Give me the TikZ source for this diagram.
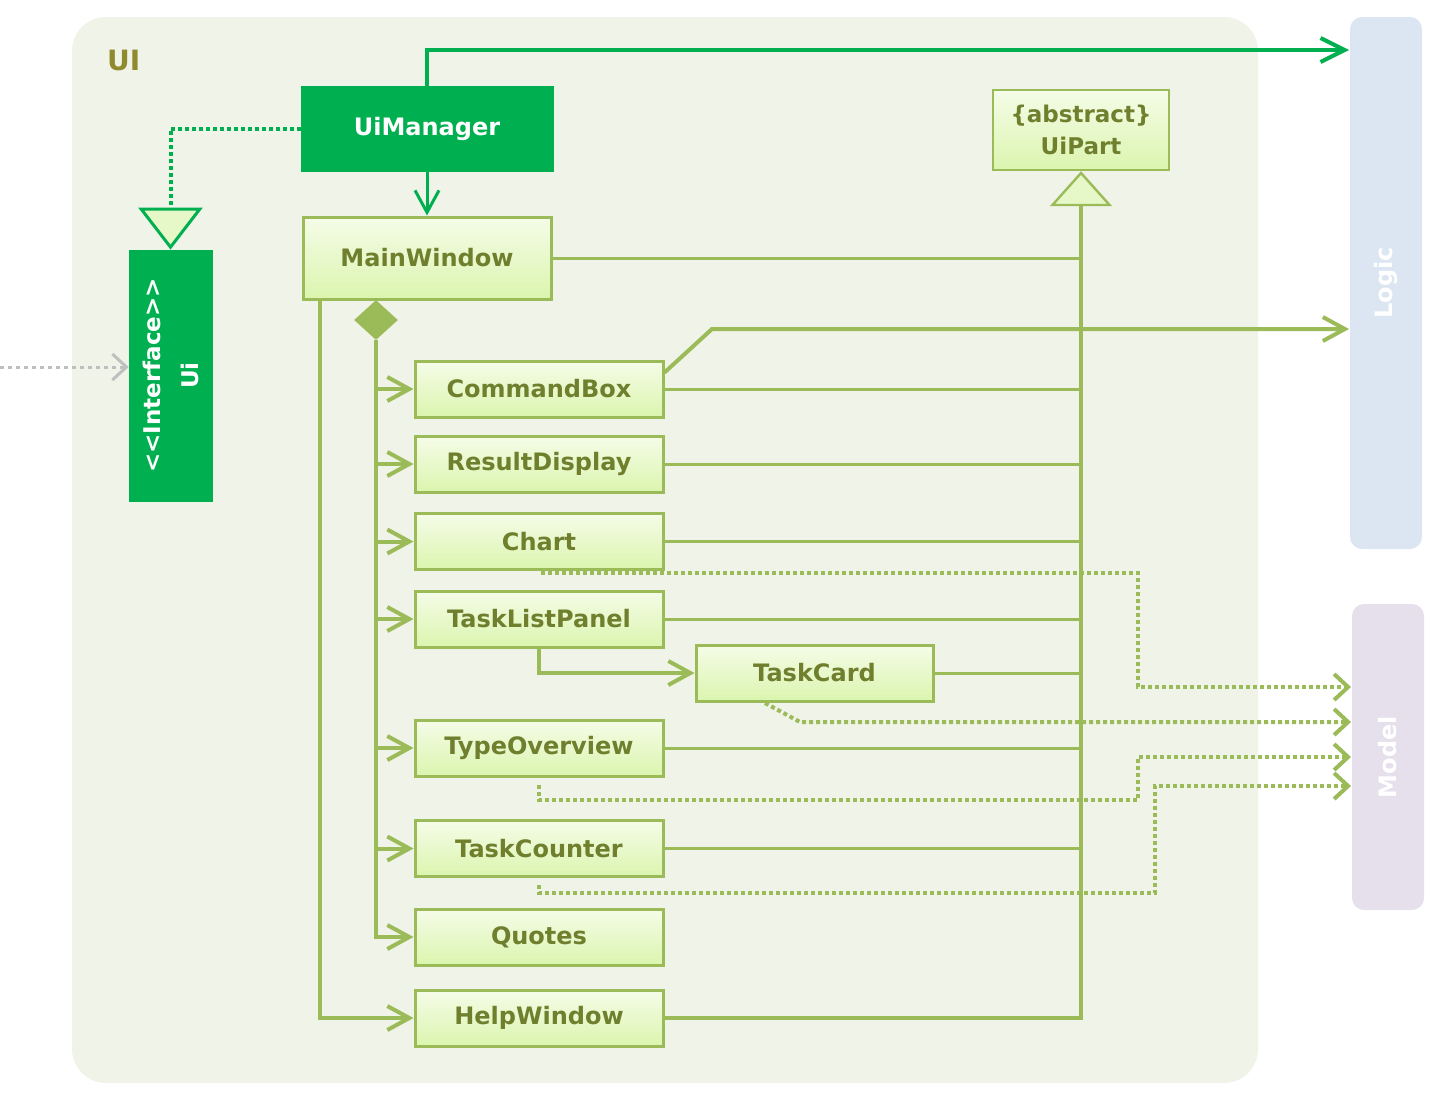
\documentclass[tikz,border=0pt]{standalone}
\usepackage{fontspec}
\setmainfont{DejaVu Sans}
\usetikzlibrary{arrows.meta,shapes.geometric,positioning}
\definecolor{uigreen}{HTML}{00B050}
\definecolor{olive}{HTML}{9BBB59}
\definecolor{olivetext}{HTML}{6F7F2E}
\definecolor{uilabel}{HTML}{8F8A2E}
\definecolor{boxtop}{HTML}{F5FCE8}
\definecolor{boxbot}{HTML}{DBF5AE}
\definecolor{headfill}{HTML}{E6F8C8}
\definecolor{pkgfill}{HTML}{F0F3E8}
\definecolor{logicfill}{HTML}{DCE6F2}
\definecolor{modelfill}{HTML}{E5E0EC}
\begin{document}
\begin{tikzpicture}[x=0.5pt,y=-0.5pt,
  cls/.style={draw=olive,line width=1.5pt,top color=boxtop,bottom color=boxbot,
    text=olivetext,font=\bfseries\fontsize{12}{14}\selectfont,inner sep=0pt,
    minimum width=124pt,minimum height=28pt},
  mgr/.style={fill=uigreen,draw=uigreen,text=white,inner sep=0pt,
    font=\bfseries\fontsize{12}{14}\selectfont},
  layer/.style={rounded corners=6pt,inner sep=0pt,minimum width=36pt,text=white,
    font=\bfseries\fontsize{12}{14}\selectfont},
  assoc/.style={draw=olive,line width=2pt,-{Straight Barb[length=11pt,width=12pt]}},
  gen/.style={draw=olive,line width=1.5pt},
  dep/.style={draw=olive,line width=2pt,dash pattern=on 2pt off 1.5pt,
    -{Straight Barb[length=7pt,width=13pt]}}]
\useasboundingbox (0,0) rectangle (1449,1110);
% package
\fill[pkgfill,rounded corners=17pt] (72,17) rectangle (1258,1083);
\node[anchor=west,text=uilabel,font=\bfseries\fontsize{14}{16}\selectfont] (uilabel) at (100,60) {UI};
% other layers
\node[layer,fill=logicfill,minimum height=266pt] (logic) at (1386,283) {\rotatebox{90}{Logic}};
\node[layer,fill=modelfill,minimum height=153pt] (model) at (1388,757) {\rotatebox{90}{Model}};
% classes
\node[mgr,minimum width=126pt,minimum height=42.5pt] (uimanager) at (427,128.5) {UiManager};
\node[mgr,minimum width=125.5pt,minimum height=41.5pt,align=center,rotate=90,
  font=\bfseries\fontsize{11.5}{19}\selectfont] (ui) at (170.5,375.5) {<{}<Interface>{}>\\Ui};
\node[cls,minimum height=41pt] (mainwin) at (427,258) {MainWindow};
\node[cls,line width=1.2pt,minimum width=88pt,minimum height=40pt,align=center,
  font=\bfseries\fontsize{11.5}{16}\selectfont] (uipart) at (1081,130) {\{abstract\}\\UiPart};
\node[cls] (cmdbox) at (539,389) {CommandBox};
\node[cls] (result) at (539,464) {ResultDisplay};
\node[cls] (chart) at (539,541.5) {Chart};
\node[cls] (tasklist) at (539,619) {TaskListPanel};
\node[cls,minimum width=118.5pt] (taskcard) at (814.5,673) {TaskCard};
\node[cls] (typeov) at (539,748) {TypeOverview};
\node[cls] (counter) at (539,848.5) {TaskCounter};
\node[cls] (quotes) at (539,937) {Quotes};
\node[cls] (help) at (539,1018) {HelpWindow};
% UiManager
\coordinate (logictop) at (1349,50);
\draw[uigreen,line width=2pt,-{Straight Barb[length=12pt,width=12pt]}] (uimanager.north) |- (logictop);
\draw[uigreen,line width=1.5pt,-{Straight Barb[length=11pt,width=12pt]}] (uimanager.south) -- (mainwin.north);
\draw[uigreen,line width=2pt,dash pattern=on 2pt off 1.5pt,
  -{Triangle[length=21pt,width=32pt,fill=headfill,line width=1.5pt]}] (uimanager.west) -| (ui.east);
\coordinate (outside) at (0,367);
\draw[black!25,line width=1.5pt,dash pattern=on 2pt off 2pt,
  -{Straight Barb[length=7pt,width=13pt]}] (outside) -- (ui.north |- outside);
% generalisation to UiPart
\draw[gen,line width=2pt,-{Triangle[length=17.5pt,width=31pt,fill=headfill,line width=1.2pt]}] (help.east) -| (uipart.south);
\foreach \c in {mainwin,cmdbox,result,chart,tasklist,taskcard,typeov,counter}
  \draw[gen] (\c.east) -- (\c.east -| uipart.south);
% composition
\node[diamond,fill=olive,inner sep=0pt,minimum width=22pt,minimum height=20pt] (diam) at (376,320) {};
\draw[assoc] (diam.south) |- (quotes.west);
\foreach \c in {cmdbox,result,chart,tasklist,typeov,counter}
  \draw[assoc] (diam.south |- \c.west) -- (\c.west);
\coordinate (mwleft) at (320,299);
\draw[assoc] (mwleft) |- (help.west);
\draw[assoc] (tasklist.south) |- (taskcard.west);
% to Logic
\coordinate (logicmid) at (1349,329);
\draw[assoc] ([yshift=-6.5pt]cmdbox.north east) -- (712,329) -- (logicmid);
% to Model
\draw[dep] (541,573) -| (1138,687) -- (1351,687);
\draw[dep] (765,703) -- (800,722) -- (1351,722);
\draw[dep] (539,785) |- (1138,800) |- (1351,757);
\draw[dep] (539,885) |- (1155,893) |- (1351,786);
\end{tikzpicture}
\end{document}
